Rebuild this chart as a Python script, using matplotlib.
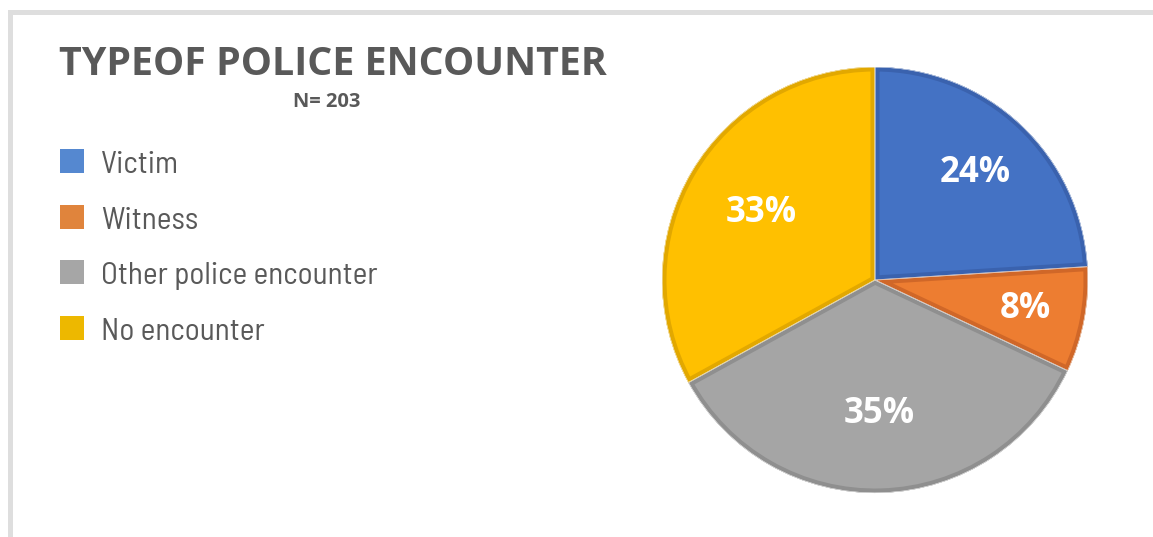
import matplotlib
matplotlib.use("Agg")
import matplotlib.pyplot as plt
from matplotlib import font_manager
from matplotlib.font_manager import FontProperties
from matplotlib.patches import Rectangle, Wedge
import numpy as np

# ---- data ----
categories = ["Victim", "Witness", "Other police encounter", "No encounter"]
shares = [24, 8, 35, 33]
title = "TYPEOF POLICE ENCOUNTER"
subtitle = "N= 203"

# ---- style ----
fill_colors = ["#4472C4", "#ED7D31", "#A5A5A5", "#FFC000"]
edge_colors = ["#3A62AE", "#D06728", "#8F8F8F", "#E2A800"]
legend_colors = ["#5588D0", "#E0843C", "#A6A6A6", "#EDB800"]
label_radii = [0.69, 0.72, 0.63, 0.62]
text_grey = "#595959"

W, H, DPI = 1153, 537, 100
fig = plt.figure(figsize=(W / DPI, H / DPI), dpi=DPI)
fig.patch.set_facecolor("white")


def fx(px):
    return px / W


def fy(py):
    return 1 - py / H


def legend_face():
    """Regular-weight semi-condensed sans for the legend, if installed."""
    scored = []
    for f in font_manager.fontManager.ttflist:
        if f.style != "normal":
            continue
        w = f.weight if isinstance(f.weight, int) else 400
        if w != 400:
            continue
        path = f.fname.replace("_", "").replace("-", "").lower()
        name = f.name.lower()
        if "semicondensed" in path or "semicondensed" in name or f.stretch in ("semi-condensed", 600):
            score = 0
        elif "condensed" in path or "condensed" in name or "narrow" in name or f.stretch in ("condensed", 500):
            score = 1
        else:
            continue
        if "open" in name:
            score -= 0.5
        elif "noto sans" in name and "cjk" not in name:
            score -= 0.3
        scored.append((score, f.fname))
    if scored:
        scored.sort()
        return FontProperties(fname=scored[0][1])
    return FontProperties(family="Open Sans")


renderer = fig.canvas.get_renderer()

# frame (top and left edges of a panel border)
fig.add_artist(Rectangle((fx(9.5), fy(600)), fx(1300), (600 - 11.5) / H,
                         transform=fig.transFigure, fill=False,
                         edgecolor="#DEDEDE", linewidth=5 * 72 / DPI))

# title
fig.text(fx(59), fy(75), title, fontsize=28.4, fontweight="bold", family="Open Sans",
         color=text_grey, ha="left", va="baseline")
fig.text(fx(327), fy(107), subtitle, fontsize=14.5, fontweight="bold", family="Open Sans",
         color=text_grey, ha="center", va="baseline")

# legend: size the face so the longest entry keeps its printed width
legend_fp = legend_face()
legend_fp.set_size(21)
probe = fig.text(0, 0, categories[2], fontproperties=legend_fp)
wpx = probe.get_window_extent(renderer).width
probe.remove()
legend_fp.set_size(max(18, min(23.5, 21 * 276 / wpx)))

top0, step, box = 149, 55.5, 24
for i, (name, col) in enumerate(zip(categories, legend_colors)):
    base = top0 + i * step + box
    fig.add_artist(Rectangle((fx(60), fy(base)), fx(box), box / H,
                             transform=fig.transFigure, facecolor=col, edgecolor="none"))
    fig.text(fx(101), fy(base), name, fontproperties=legend_fp, color=text_grey,
             ha="left", va="baseline")

# pie
cx, cy, r = 875, 280, 213
ax = fig.add_axes([fx(cx - r), fy(cy + r), 2 * r / W, 2 * r / H])
wedges, _ = ax.pie(shares, colors=fill_colors, startangle=90, counterclock=False,
                   radius=1, wedgeprops=dict(linewidth=0))
ax.set_xlim(-1, 1)
ax.set_ylim(-1, 1)
ax.set_aspect("equal")
ax.axis("off")

border_pt = 9 * 72 / DPI
for w, ec in zip(wedges, edge_colors):
    b = Wedge(w.center, w.r, w.theta1, w.theta2, facecolor="none", edgecolor=ec,
              linewidth=border_pt)
    ax.add_patch(b)
    b.set_clip_path(w)
    sep = Wedge(w.center, w.r, w.theta1, w.theta2, facecolor="none",
                edgecolor="#F2F2F2", linewidth=0.7)
    ax.add_patch(sep)
    sep.set_clip_path(w)

for w, val, lr in zip(wedges, shares, label_radii):
    mid = np.deg2rad((w.theta1 + w.theta2) / 2)
    ax.text(lr * np.cos(mid), lr * np.sin(mid), f"{val}%", color="white",
            fontsize=25, fontweight="bold", family="Open Sans", ha="center", va="center")

fig.savefig("out.png", dpi=DPI, facecolor="white")
